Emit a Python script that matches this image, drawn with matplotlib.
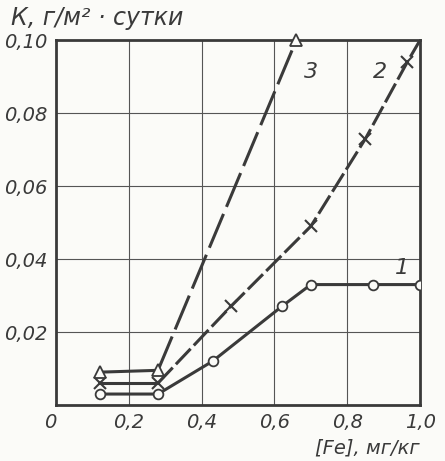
import matplotlib
matplotlib.use("Agg")
import matplotlib.pyplot as plt

# curve 1 - circles, solid
x1 = [0.12, 0.28, 0.43, 0.62, 0.70, 0.87, 1.0]
y1 = [0.003, 0.003, 0.012, 0.027, 0.033, 0.033, 0.033]
# curve 2 - crosses, dashed
x2 = [0.12, 0.28, 0.48, 0.70, 0.85, 0.965, 1.0]
y2 = [0.006, 0.006, 0.027, 0.049, 0.073, 0.094, 0.100]
# curve 3 - triangles, long dashes
x3 = [0.12, 0.28, 0.66]
y3 = [0.009, 0.0095, 0.100]

xticks = [0, 0.2, 0.4, 0.6, 0.8, 1.0]
xlabels = ["0", "0,2", "0,4", "0,6", "0,8", "1,0"]
yticks = [0.02, 0.04, 0.06, 0.08, 0.10]
ylabels = ["0,02", "0,04", "0,06", "0,08", "0,10"]

ink = "#3a3a3a"
plt.rcParams['font.family'] = ['Liberation Sans Narrow', 'DejaVu Sans']

fig = plt.figure(figsize=(4.45, 4.61), dpi=100)
fig.patch.set_facecolor("#fbfbf8")
ax = fig.add_axes([0.126, 0.1215, 0.818, 0.7915])
ax.set_facecolor("#fbfbf8")
ax.set_xlim(0, 1.0)
ax.set_ylim(0, 0.10)

for v in xticks[1:-1]:
    ax.axvline(v, color="#555555", lw=0.8, zorder=1)
for v in yticks[:-1]:
    ax.axhline(v, color="#555555", lw=0.8, zorder=1)

# solid first segments, dashed remainder
ax.plot(x1, y1, color=ink, lw=2.2, zorder=2)
ax.plot(x2[:2], y2[:2], color=ink, lw=2.2, zorder=2)
ax.plot(x2[1:], y2[1:], color=ink, lw=2.2, dashes=(7, 1.5), zorder=2)
ax.plot(x3[:2], y3[:2], color=ink, lw=2.2, zorder=2)
ax.plot(x3[1:], y3[1:], color=ink, lw=2.2, dashes=(12, 2.5), zorder=2)

ax.plot(x1, y1, "o", ms=7, mfc="#fbfbf8", mec=ink, mew=1.3, ls="none", zorder=3)
ax.plot(x2[:-1], y2[:-1], "x", ms=8, mec=ink, mew=1.5, ls="none", zorder=3)
ax.plot(x3, y3, "^", ms=8, mfc="#fbfbf8", mec=ink, mew=1.3, ls="none", zorder=3,
        clip_on=False)

ax.text(0.93, 0.036, "1", fontsize=16, style="italic", color=ink)
ax.text(0.87, 0.0895, "2", fontsize=16, style="italic", color=ink)
ax.text(0.68, 0.0895, "3", fontsize=16, style="italic", color=ink)

ax.set_xticks(xticks)
ax.set_xticklabels(xlabels, fontsize=14, style="italic", color=ink)
ax.get_xticklabels()[0].set_horizontalalignment("right")
ax.set_yticks(yticks)
ax.set_yticklabels(ylabels, fontsize=14, style="italic", color=ink)
ax.tick_params(length=0, pad=6)
for s in ax.spines.values():
    s.set_linewidth(2)
    s.set_color(ink)

fig.text(0.025, 0.945, "К, г/м² · сутки", fontsize=17, style="italic", color=ink)
fig.text(0.944, 0.028, "[Fe], мг/кг", fontsize=14, style="italic", color=ink,
         ha="right", va="center")

fig.savefig("out.png", dpi=100, facecolor=fig.get_facecolor())
